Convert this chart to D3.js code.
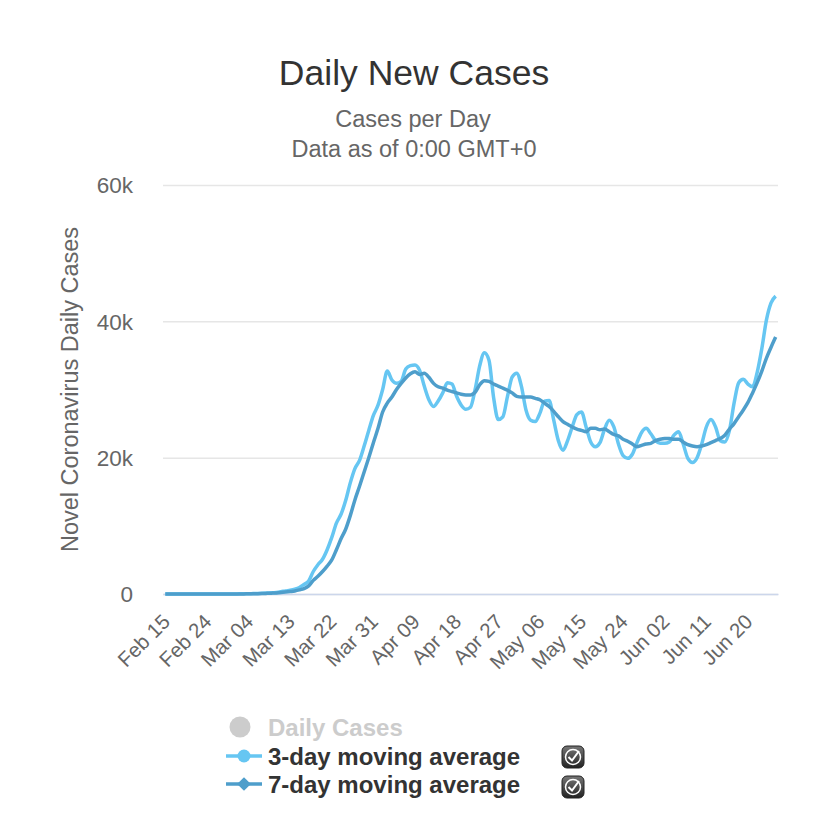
<!DOCTYPE html>
<html><head><meta charset="utf-8">
<script src="https://cdn.jsdelivr.net/npm/d3@7"></script>
<style>body{margin:0;background:#fff;}svg{font-family:"Liberation Sans",Arial,Helvetica,sans-serif;}</style>
</head><body><svg id="c" width="828" height="833"></svg>
<script>
const startDate = "2020-02-15";
const tickLabels = ["Feb 15","Feb 24","Mar 04","Mar 13","Mar 22","Mar 31","Apr 09","Apr 18","Apr 27","May 06","May 15","May 24","Jun 02","Jun 11","Jun 20"];
const yTicks = [0, 20000, 40000, 60000];
const yTickLabels = ["0","20k","40k","60k"];
const avg3 = [2,2,1,1,1,1,3,4,5,6,5,5,6,9,12,
 15,22,28,40,60,80,110,140,170,230,330,450,550,
 700,950,1400,1900,3300,4300,5100,6500,8300,10400,11700,13700,16300,18400,19600,21700,24000,26200,27700,30000,32700,31400,30900,31200,33000,33500,33600,32800,30500,28500,27500,28300,29500,31000,30800,29000,27700,27100,27400,30000,33500,35400,34300,28800,25600,26000,29000,31800,32400,30500,27000,25500,25300,26500,28300,28400,25500,22500,21100,22500,24500,26300,26700,24500,22300,21600,22200,24200,25500,24500,22000,20300,19900,20500,22200,23700,24300,23500,22500,22100,22100,22300,23300,23800,22000,19900,19300,20000,22000,24500,25600,24500,22500,22300,24000,28000,31000,31500,30800,30400,32500,36000,40200,42700,43700];
const avg7 = [1,1,1,1,1,1,2,2,3,4,4,5,5,6,8,
 10,13,18,25,35,50,70,95,125,160,210,280,360,
 450,600,800,1200,2000,2600,3300,4100,5000,6500,8100,9500,11500,13800,15800,17900,20000,22200,24300,26700,28000,28900,30000,30900,31700,32300,32600,32200,32400,31800,30900,30400,30200,29900,29700,29500,29300,29200,29200,29600,30700,31300,31200,30800,30500,30200,29900,29500,29000,28900,28900,28900,28700,28500,28000,27500,26800,26000,25300,24900,24500,24200,24000,23800,24300,24300,24100,24200,23800,23400,23200,22700,22400,22000,21600,21800,22000,22100,22500,22700,22800,22800,22700,22700,22300,21900,21700,21600,21700,21900,22200,22500,22800,23300,24200,25000,26000,27000,28100,29500,31000,32700,34600,36200,37700];

const svg = d3.select("#c");
const start = new Date(startDate + "T00:00:00");
const categories = avg3.map((_, i) => d3.timeDay.offset(start, i));
const fmt = d3.timeFormat("%b %d");
const pL = 163, pR = 778, pT = 185, pB = 594;

const x = d3.scaleBand().domain(categories.map(fmt)).range([pL, pR]);
const cx = d => x(d) + x.bandwidth() / 2;
const y = d3.scaleLinear().domain([0, 60000]).range([pB, pT]);

// title
svg.append("text").attr("x", 414).attr("y", 85).attr("text-anchor", "middle")
  .attr("font-size", 35.5).attr("fill", "#333").text("Daily New Cases");
svg.append("text").attr("x", 413).attr("y", 127).attr("text-anchor", "middle")
  .attr("font-size", 23.5).attr("fill", "#666").text("Cases per Day");
svg.append("text").attr("x", 414).attr("y", 157).attr("text-anchor", "middle")
  .attr("font-size", 23.5).attr("fill", "#666").text("Data as of 0:00 GMT+0");

// grid
const yAxis = d3.axisLeft(y).tickValues(yTicks).tickSize(-(pR - pL))
  .tickFormat((d, i) => yTickLabels[i]);
const gy = svg.append("g").attr("transform", `translate(${pL},0)`).call(yAxis);
gy.select(".domain").remove();
gy.selectAll(".tick line").attr("stroke", "#e6e6e6").attr("stroke-width", 1.5);
gy.selectAll(".tick text").attr("x", -30).attr("dy", "0.35em").attr("font-size", 22.5).attr("fill", "#666")
  .attr("font-family", "Liberation Sans, Arial, sans-serif");

// x axis
const xAxis = d3.axisBottom(x).tickValues(tickLabels).tickSize(0).tickFormat(d => d);
const gx = svg.append("g").attr("transform", `translate(0,${pB})`).call(xAxis);
gx.select(".domain").attr("stroke", "#ccd6eb").attr("stroke-width", 1.5);
gx.selectAll(".tick text").attr("font-size", 20.5).attr("fill", "#666")
  .attr("font-family", "Liberation Sans, Arial, sans-serif")
  .attr("text-anchor", "end").attr("dy", 0).attr("y", 0)
  .attr("transform", "translate(6,29) rotate(-45)");

// y title
svg.append("text").attr("transform", `translate(78,${(pT + pB) / 2}) rotate(-90)`)
  .attr("text-anchor", "middle").attr("font-size", 23.5).attr("fill", "#666")
  .text("Novel Coronavirus Daily Cases");

const line = d3.line().x((d, i) => cx(fmt(categories[i]))).y(d => y(d)).curve(d3.curveMonotoneX);
const c3 = "#66c6f2", c7 = "#4e9ecb";
svg.append("path").datum(avg3).attr("d", line).attr("fill", "none").attr("stroke", c3).attr("stroke-width", 3.5);
svg.append("path").datum(avg7).attr("d", line).attr("fill", "none").attr("stroke", c7).attr("stroke-width", 3.5);

// legend
const lg = svg.append("g");
lg.append("circle").attr("cx", 240).attr("cy", 727).attr("r", 10.5).attr("fill", "#ccc");
lg.append("text").attr("x", 268).attr("y", 736).attr("font-size", 24).attr("font-weight", "bold").attr("fill", "#ccc").text("Daily Cases");
const items = [{label: "3-day moving average", color: c3, sym: "circle", yy: 756, cb: 757},
               {label: "7-day moving average", color: c7, sym: "diamond", yy: 784, cb: 787}];
const defs = svg.append("defs");
const gr = defs.append("linearGradient").attr("id", "cb").attr("x1", 0).attr("y1", 0).attr("x2", 0).attr("y2", 1);
gr.append("stop").attr("offset", "0%").attr("stop-color", "#777");
gr.append("stop").attr("offset", "100%").attr("stop-color", "#222");
items.forEach(it => {
  lg.append("line").attr("x1", 226).attr("x2", 262).attr("y1", it.yy).attr("y2", it.yy)
    .attr("stroke", it.color).attr("stroke-width", 3.5);
  if (it.sym === "circle") {
    lg.append("circle").attr("cx", 244).attr("cy", it.yy).attr("r", 6.5).attr("fill", it.color);
  } else {
    lg.append("path").attr("d", d3.symbol(d3.symbolDiamond2, 120)()).attr("transform", `translate(244,${it.yy})`).attr("fill", it.color);
  }
  lg.append("text").attr("x", 268).attr("y", it.yy + 8.5).attr("font-size", 24).attr("font-weight", "bold")
    .attr("fill", "#333").text(it.label);
  const bx = 562, by = it.cb - 11;
  lg.append("rect").attr("x", bx).attr("y", by).attr("width", 22).attr("height", 22).attr("rx", 5)
    .attr("fill", "url(#cb)").attr("stroke", "#222").attr("stroke-width", 1);
  lg.append("circle").attr("cx", bx + 11).attr("cy", by + 11).attr("r", 7.5).attr("fill", "none")
    .attr("stroke", "#fff").attr("stroke-width", 1.5);
  lg.append("path").attr("d", `M${bx+6.5},${by+11} L${bx+10},${by+14.5} L${bx+17},${by+5}`)
    .attr("fill", "none").attr("stroke", "#fff").attr("stroke-width", 2);
});
</script></body></html>
